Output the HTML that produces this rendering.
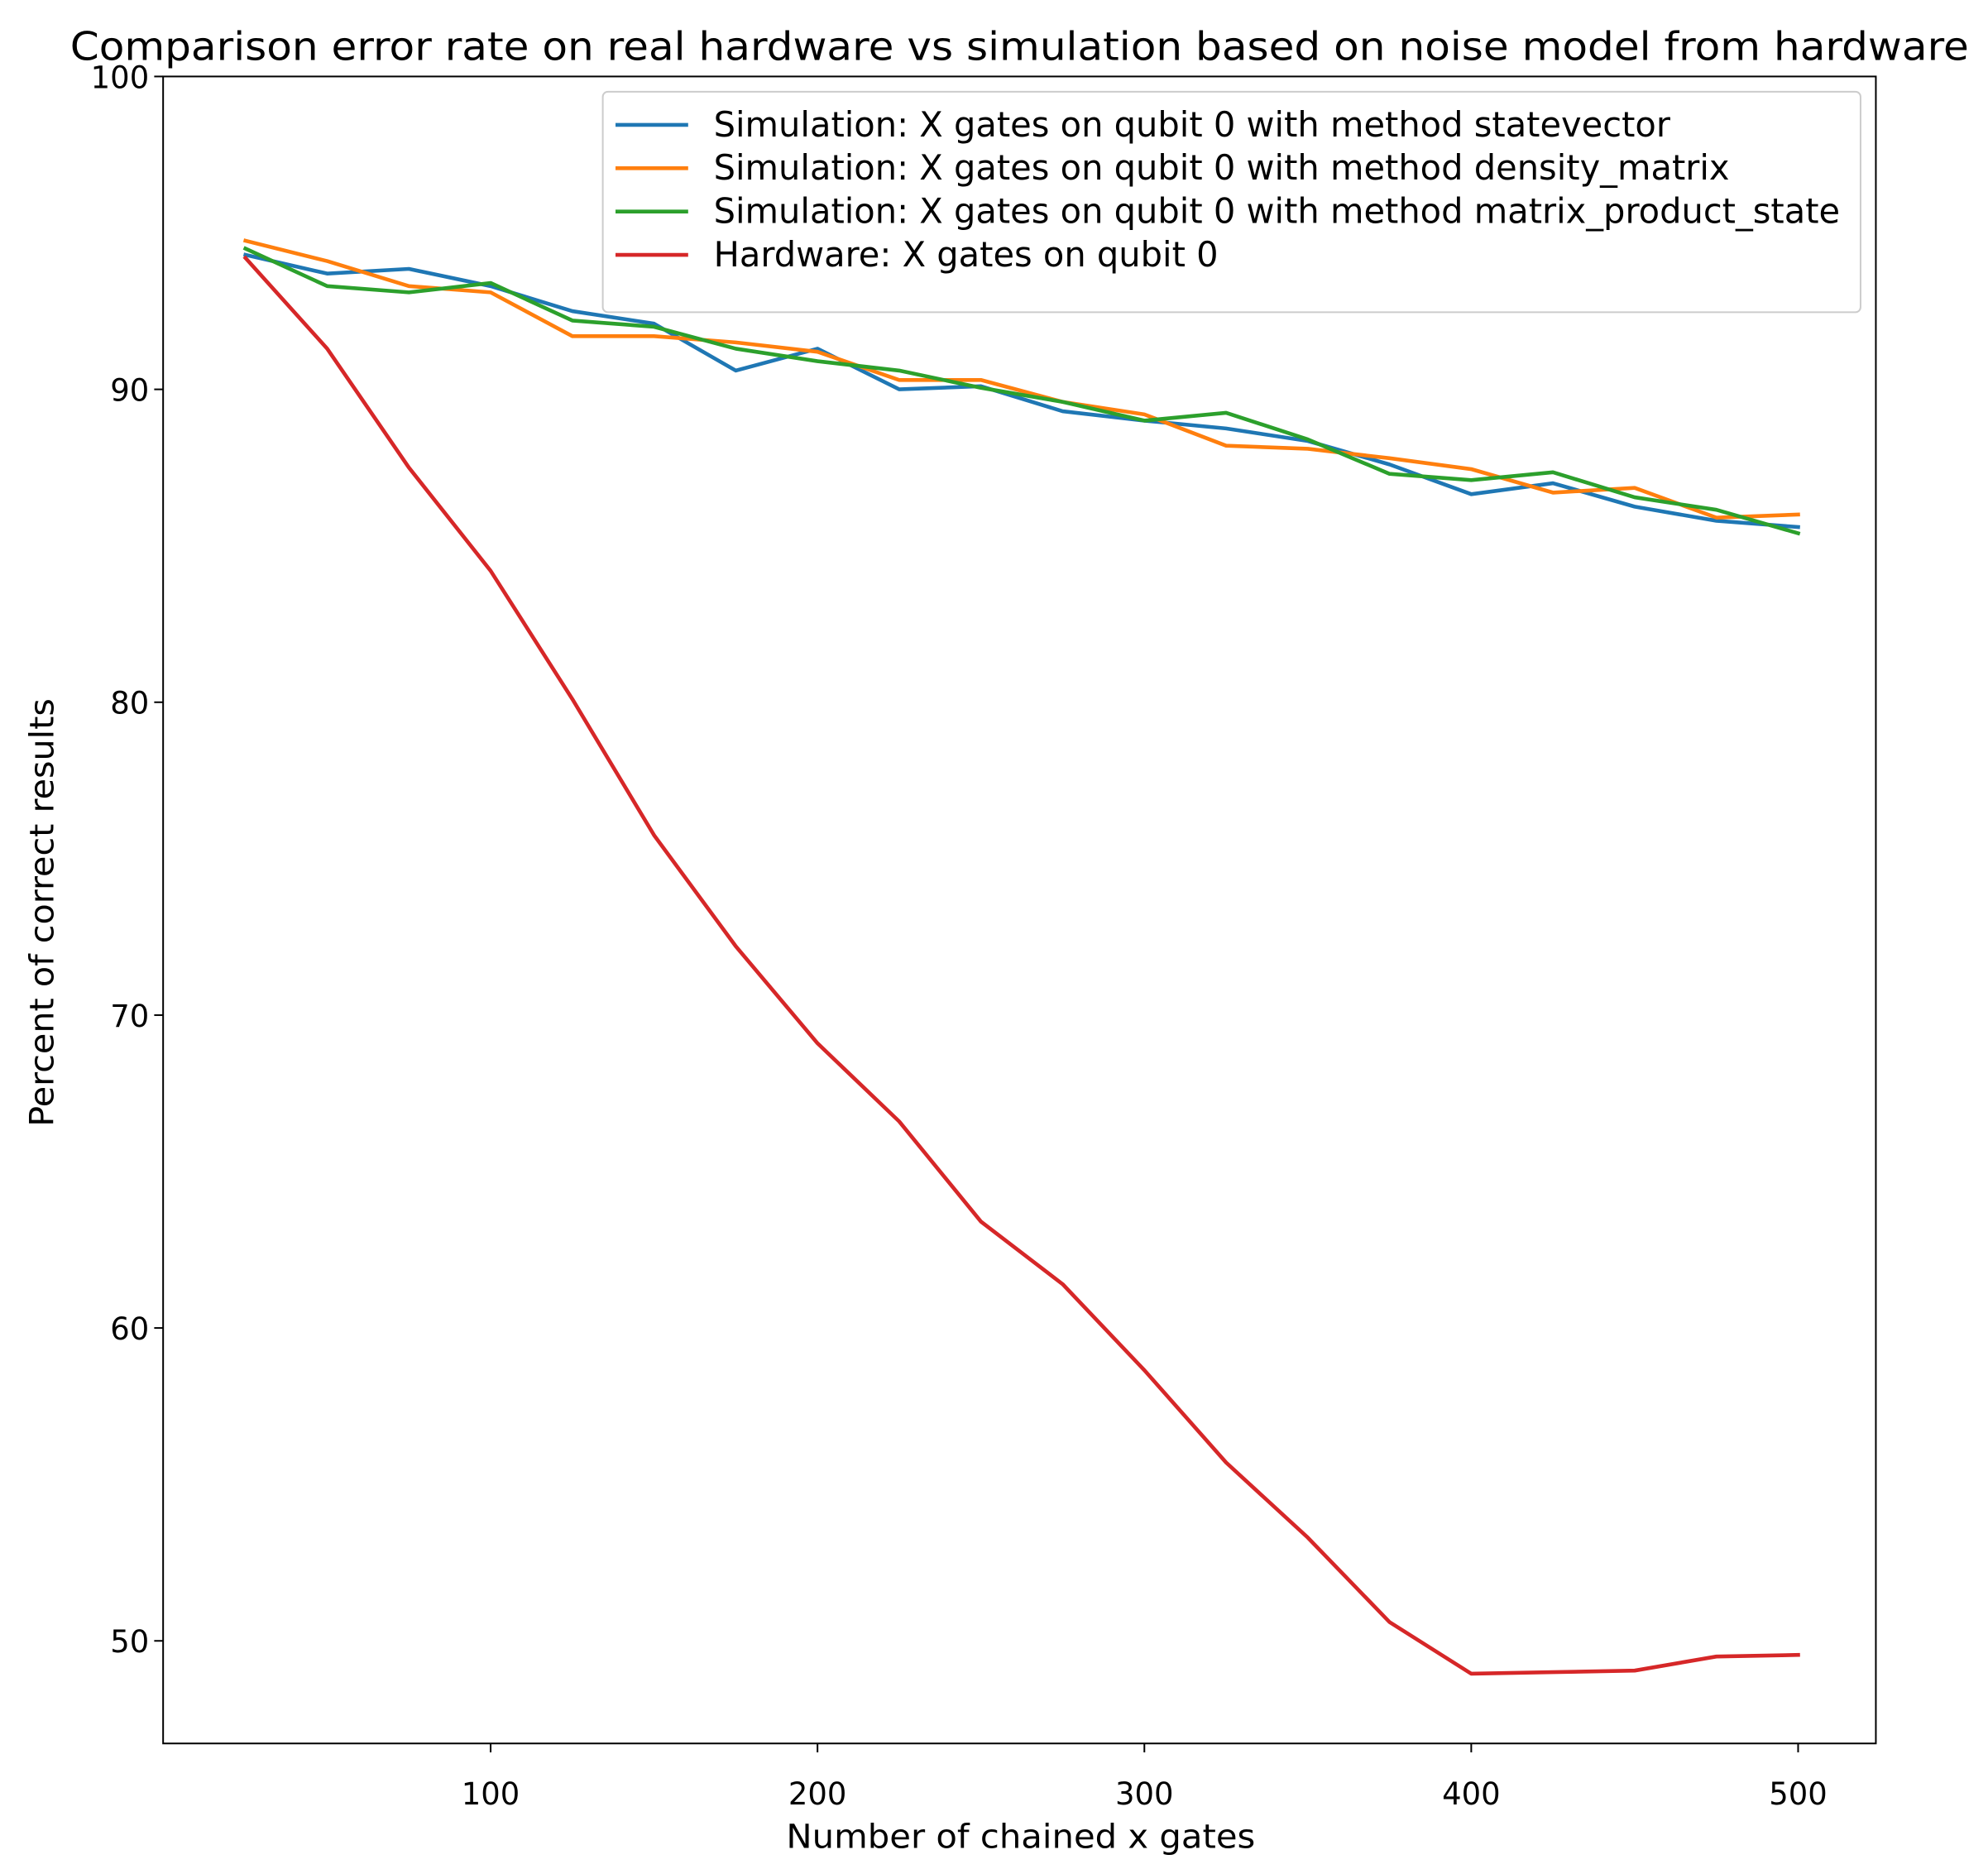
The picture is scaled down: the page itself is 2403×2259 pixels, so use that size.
<!DOCTYPE html>
<html><head><meta charset="utf-8"><style>html,body{margin:0;padding:0;background:#fff}svg{display:block}text{font-family:"DejaVu Sans","Liberation Sans",sans-serif;fill:#000}</style></head>
<body>
<svg id="chart" width="2403" height="2259" viewBox="0 0 1560 1466.5" xmlns="http://www.w3.org/2000/svg">
<rect width="1560" height="1466.5" fill="#fff"/>
<text x="800" y="47" font-size="30.5" text-anchor="middle" textLength="1490" lengthAdjust="spacingAndGlyphs">Comparison error rate on real hardware vs simulation based on noise model from hardware</text>
<g id="plot"></g>
<rect x="128" y="60" width="1344" height="1308" fill="none" stroke="#000" stroke-width="1.3"/>
<text x="801" y="1450" font-size="26" text-anchor="middle" textLength="368" lengthAdjust="spacingAndGlyphs">Number of chained x gates</text>
<text transform="translate(42,716) rotate(-90)" font-size="26" text-anchor="middle" textLength="336" lengthAdjust="spacingAndGlyphs">Percent of correct results</text>
<g>
<rect x="473" y="72" width="987" height="173" rx="4" fill="#fff" fill-opacity="0.8" stroke="#ccc" stroke-width="1.3"/>
<g id="legend-items"></g>
</g>
</svg>
<script>
const xValues = [25,50,75,100,125,150,175,200,225,250,275,300,325,350,375,400,425,450,475,500];
const statevector = [94.3,93.7,93.85,93.3,92.5,92.1,90.6,91.3,90.0,90.1,89.3,89.0,88.75,88.35,87.6,86.65,87.0,86.25,85.8,85.6];
const densityMatrix = [94.75,94.1,93.3,93.1,91.7,91.7,91.5,91.2,90.3,90.3,89.6,89.2,88.2,88.1,87.8,87.45,86.7,86.85,85.9,86.0];
const matrixProductState = [94.5,93.3,93.1,93.4,92.2,92.0,91.3,90.9,90.6,90.05,89.6,89.0,89.25,88.4,87.3,87.1,87.35,86.55,86.15,85.4];
const hardware = [94.2,91.3,87.5,84.2,80.1,75.75,72.2,69.1,66.6,63.4,61.4,58.65,55.7,53.3,50.6,48.95,49.0,49.05,49.5,49.55];
const xTicks = [100,200,300,400,500];
const yTicks = [50,60,70,80,90,100];
const seriesNames = ["Simulation: X gates on qubit 0 with method statevector","Simulation: X gates on qubit 0 with method density_matrix","Simulation: X gates on qubit 0 with method matrix_product_state","Hardware: X gates on qubit 0"];
const seriesColors = ["#1f77b4","#ff7f0e","#2ca02c","#d62728"];
const seriesData = [statevector,densityMatrix,matrixProductState,hardware];

const NS = "http://www.w3.org/2000/svg";
const xScale = v => 385 + (v - 100) * (1026 / 400);
const yScale = v => 60 + (100 - v) * 24.55;
const plot = document.getElementById('plot');
function mk(tag, attrs, parent){const e=document.createElementNS(NS,tag);for(const k in attrs)e.setAttribute(k,attrs[k]);parent.appendChild(e);return e;}

xTicks.forEach(t=>{
  const x=xScale(t);
  const l=mk('line',{x1:x,x2:x,y1:1368,y2:1375,stroke:'#000','stroke-width':1.3},plot);
  
  
  const tx=mk('text',{x:x,y:1416,'font-size':24,'text-anchor':'middle'},plot);
  tx.textContent=t;
  
  
});
yTicks.forEach(t=>{
  const y=yScale(t);
  const l=mk('line',{x1:121,x2:128,y1:y,y2:y,stroke:'#000','stroke-width':1.3},plot);
  
  
  const tx=mk('text',{x:117,y:y+9,'font-size':24,'text-anchor':'end'},plot);
  tx.textContent=t;
  
  
});
const lineNames=['statevector-line','density-matrix-line','matrix-product-state-line','hardware-line'];
seriesData.forEach((s,i)=>{
  const pts=s.map((v,j)=>xScale(xValues[j]).toFixed(2)+','+yScale(v).toFixed(2)).join(' ');
  const p=mk('polyline',{points:pts,fill:'none',stroke:seriesColors[i],'stroke-width':3,'stroke-linejoin':'round','stroke-linecap':'square'},plot);
  
  
});
const leg=document.getElementById('legend-items');
seriesNames.forEach((n,i)=>{
  const y=98+i*34;
  const l=mk('line',{x1:483,x2:540,y1:y,y2:y,stroke:seriesColors[i],'stroke-width':3},leg);
  
  
  const t=mk('text',{x:560,y:y+9,'font-size':27},leg);
  t.textContent=n;
  
  
});
</script>
</body></html>
